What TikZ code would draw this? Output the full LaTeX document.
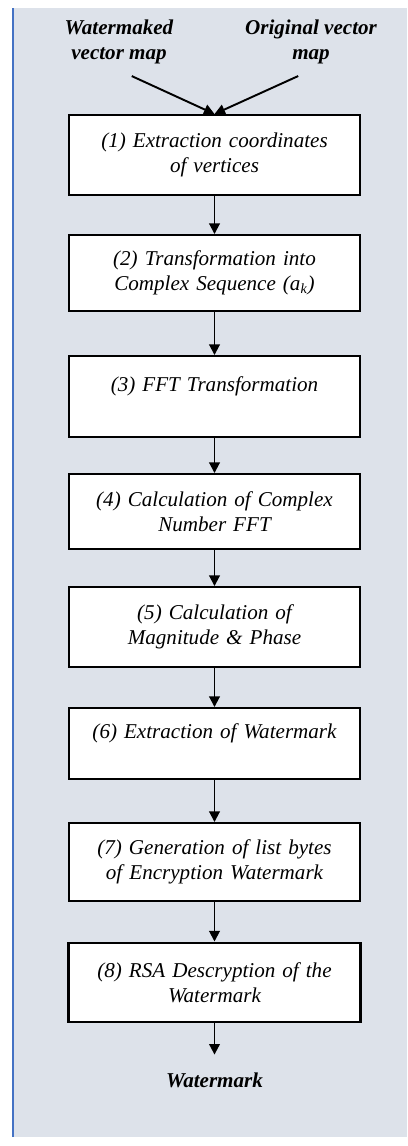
\documentclass[tikz,border=0pt]{standalone}
\usepackage{fontspec}
\setmainfont{Liberation Serif}
\usetikzlibrary{arrows.meta, positioning}
\definecolor{fond}{RGB}{221,226,234}
\definecolor{bordbleu}{RGB}{68,114,196}
\tikzset{
    etape/.style={draw, line width=1.1pt, fill=white, minimum width=5.78cm, text width=5.6cm, align=center,
        font=\fontsize{12}{14.2}\selectfont\itshape},
    entree/.style={align=center, font=\fontsize{12}{14.2}\selectfont\bfseries\itshape},
    fleche/.style={line width=1.1pt, -{Triangle[length=6pt,width=6pt]}}
}

\begin{document}
\begin{tikzpicture}
        \useasboundingbox (0,0) rectangle (8.14,22.92);
        % Fond du cadre
        \fill[fond] (0.26,0.18) rectangle (8.14,22.76);
        \draw[bordbleu, line width=1.1pt] (0.26,0.18) -- (0.26,22.76);
        % Entrees
        \node[entree] (wmap) at (2.38,22.08) {Watermaked\\vector map};
        \node[entree] (omap) at (6.22,22.08) {Original vector\\map};
        % Etapes
        \node[etape, minimum height=1.6cm] (e1) at (4.29,19.82) {(1) Extraction coordinates\\of vertices};
        \node[etape, minimum height=1.52cm] (e2) at (4.29,17.46) {(2) Transformation into\\Complex Sequence (a\textsubscript{k})};
        \node[etape, minimum height=1.62cm] (e3) at (4.29,14.99) {(3) FFT Transformation\\~};
        \node[etape, minimum height=1.5cm] (e4) at (4.29,12.69) {(4) Calculation of Complex\\Number FFT};
        \node[etape, minimum height=1.6cm] (e5) at (4.29,10.38) {(5) Calculation of\\Magnitude \& Phase};
        \node[etape, minimum height=1.42cm] (e6) at (4.29,8.05) {(6) Extraction of Watermark\\~};
        \node[etape, minimum height=1.56cm] (e7) at (4.29,5.68) {(7) Generation of list bytes\\of Encryption Watermark};
        \node[etape, minimum height=1.58cm, line width=1.7pt] (e8) at (4.29,3.27) {(8) RSA Descryption of the\\Watermark};
        % Sortie
        \node[entree, inner ysep=10pt] (sortie) at (4.29,1.32) {Watermark};
        % Fleches
        \draw[fleche, shorten <=8pt] (wmap.south) -- (e1.north);
        \draw[fleche, shorten <=8pt] (omap.south) -- (e1.north);
        \foreach \a/\b in {e1/e2,e2/e3,e3/e4,e4/e5,e5/e6,e6/e7,e7/e8,e8/sortie}
            \draw[fleche] (\a.south) -- (\b.north);
    \end{tikzpicture}
\end{document}
